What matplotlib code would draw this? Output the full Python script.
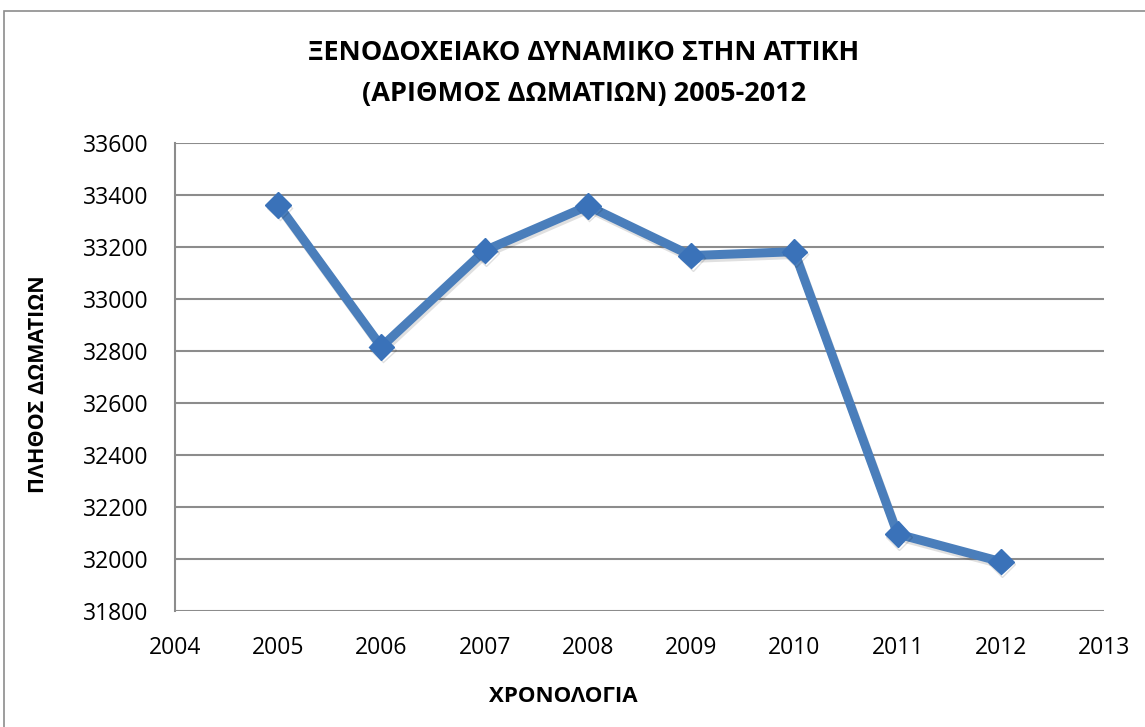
import matplotlib
matplotlib.use('Agg')
import matplotlib.pyplot as plt
import matplotlib.patheffects as pe
from matplotlib.patches import Rectangle

years = [2005, 2006, 2007, 2008, 2009, 2010, 2011, 2012]
rooms = [33362, 32816, 33186, 33358, 33167, 33182, 32096, 31990]
yticks = [31800, 32000, 32200, 32400, 32600, 32800, 33000, 33200, 33400, 33600]
xticks = list(range(2004, 2014))

title = "ΞΕΝΟΔΟΧΕΙΑΚΟ ΔΥΝΑΜΙΚΟ ΣΤΗΝ ΑΤΤΙΚΗ\n(ΑΡΙΘΜΟΣ ΔΩΜΑΤΙΩΝ) 2005-2012"
xlabel = "ΧΡΟΝΟΛΟΓΙΑ"
ylabel = "ΠΛΗΘΟΣ ΔΩΜΑΤΙΩΝ"

plt.rcParams['font.family'] = ['Open Sans', 'DejaVu Sans']

fig = plt.figure(figsize=(11.45, 7.27), dpi=100)
fig.patches.append(Rectangle((4 / 1145, -0.1), 1.2, 1 - 11 / 727 + 0.1,
                             transform=fig.transFigure, fill=False,
                             edgecolor='#8c8c8c', linewidth=1.2))

ax = fig.add_axes([175 / 1145, 1 - 611 / 727, (1104 - 175) / 1145, (611 - 143) / 727])
ax.plot(years, rooms, color='#4a7ebb', linewidth=6.5, marker='D',
        markersize=13, markerfacecolor='#3a72b9', markeredgecolor='#3a72b9',
        path_effects=[pe.SimpleLineShadow(offset=(1, -2), alpha=0.12), pe.Normal()],
        zorder=3)

ax.set_xlim(2004, 2013)
ax.set_ylim(31800, 33600)
ax.set_xticks(xticks)
ax.set_yticks(yticks)
ax.grid(axis='y', color='#8c8c8c', linewidth=1.5)
ax.set_axisbelow(True)
for s in ['top', 'right', 'bottom']:
    ax.spines[s].set_visible(False)
ax.spines['left'].set_color('#8c8c8c')
ax.spines['left'].set_linewidth(1.5)
ax.tick_params(length=0, labelsize=16.5)
ax.tick_params(axis='x', pad=18)
ax.tick_params(axis='y', pad=19)

fig.text(584 / 1145, 1 - 73 / 727, title, ha='center', va='center',
         fontsize=19.5, fontweight='bold', linespacing=1.75)
fig.text(563 / 1145, 1 - 697 / 727, xlabel, ha='center', va='center',
         fontsize=16, fontweight='bold')
fig.text(39 / 1145, 1 - 384 / 727, ylabel, ha='center', va='center',
         rotation=90, fontsize=15.5, fontweight='bold')

plt.savefig('out.png', dpi=100)
